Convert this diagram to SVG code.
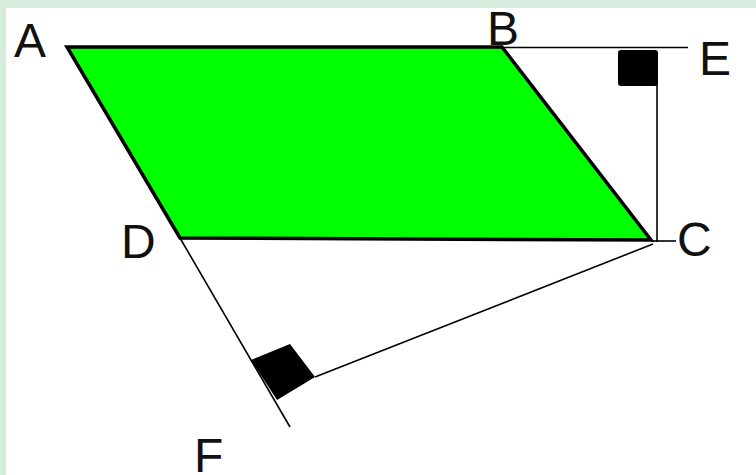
<svg xmlns="http://www.w3.org/2000/svg" width="756" height="475" viewBox="0 0 756 475">
<style>
.lbl{font-family:"Liberation Sans",Arial,sans-serif;font-size:48px;fill:#111}
.thin{stroke:#000;stroke-width:1.6;fill:none}
</style>
<rect x="0" y="0" width="756" height="475" fill="#ffffff"/>
<rect x="0" y="0" width="756" height="8" fill="#d6ecdd"/>
<rect x="0" y="0" width="6" height="475" fill="#d6ecdd"/>
<g id="parallelogram">
<polygon points="67,47 502,47 651,240 180,238" fill="#00ff00" stroke="#000" stroke-width="3.5" stroke-linejoin="miter"/>
</g>
<g id="connectors">
<line class="thin" x1="502" y1="47.5" x2="688" y2="47.5"/>
<line class="thin" x1="657" y1="84" x2="657" y2="242"/>
<line class="thin" x1="651" y1="241" x2="676" y2="241"/>
<line class="thin" x1="180" y1="238" x2="290" y2="427"/>
<line class="thin" x1="653" y1="244" x2="315" y2="377"/>
</g>
<g id="right-angle-E">
<rect x="618" y="50" width="40" height="36" rx="3" fill="#000"/>
</g>
<g id="right-angle-F">
<polygon points="251,360 290,344 315,377 277,400" fill="#000"/>
</g>
<g id="labels">
<text class="lbl" x="14" y="57">A</text>
<text class="lbl" x="487" y="45">B</text>
<text class="lbl" x="699" y="75">E</text>
<text class="lbl" x="121" y="258">D</text>
<text class="lbl" x="677" y="256">C</text>
<text class="lbl" x="194" y="472">F</text>
</g>
</svg>
